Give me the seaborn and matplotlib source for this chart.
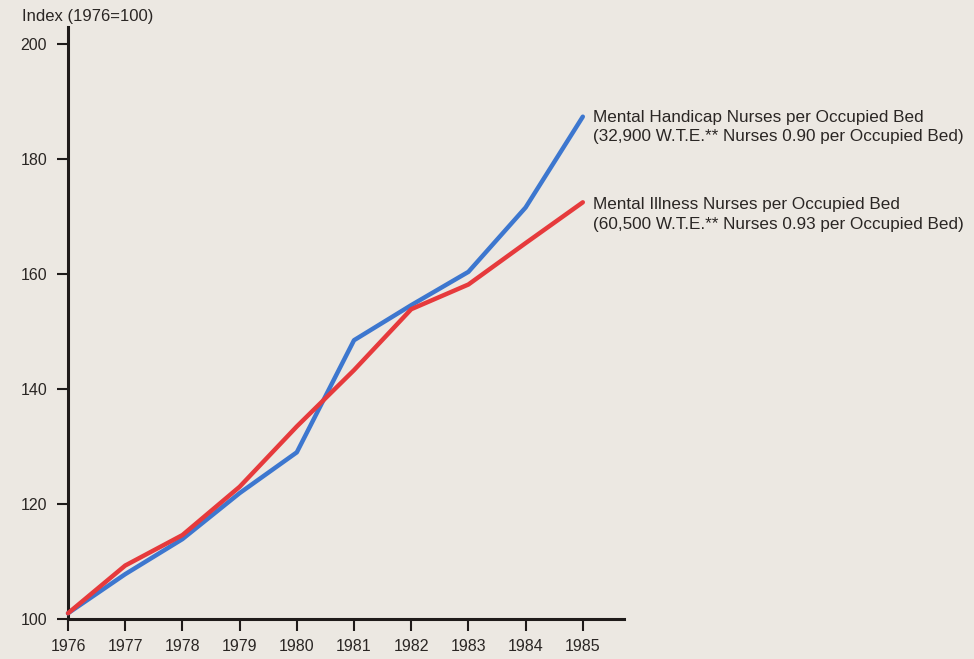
import matplotlib
matplotlib.use("Agg")
import matplotlib.pyplot as plt
import seaborn as sns
import pandas as pd

years = [1976, 1977, 1978, 1979, 1980, 1981, 1982, 1983, 1984, 1985]
handicap = [101.0, 107.8, 113.9, 121.9, 129.0, 148.5, 154.6, 160.4, 171.6, 187.4]
illness = [101.0, 109.3, 114.6, 123.0, 133.5, 143.3, 153.9, 158.2, 165.4, 172.5]
series_names = ["Mental Handicap Nurses per Occupied Bed",
                "Mental Illness Nurses per Occupied Bed"]
series_notes = ["(32,900 W.T.E.** Nurses 0.90 per Occupied Bed)",
                "(60,500 W.T.E.** Nurses 0.93 per Occupied Bed)"]
y_ticks = [100, 120, 140, 160, 180, 200]
y_label = "Index (1976=100)"

bg = "#ece8e2"
colors = ["#3d77cf", "#e63a3c"]
text_c = "#2a2624"

sns.set_theme(style="white")
plt.rcParams["font.family"] = ["Liberation Sans", "DejaVu Sans"]

df = pd.DataFrame({
    "year": years * 2,
    "value": handicap + illness,
    "series": [series_names[0]] * len(years) + [series_names[1]] * len(years),
})

fig = plt.figure(figsize=(9.74, 6.59), dpi=100, facecolor=bg)
ax = fig.add_axes([68 / 974, 1 - 619 / 659, (624 - 68) / 974, (619 - 27) / 659])
ax.set_facecolor(bg)

sns.lineplot(data=df, x="year", y="value", hue="series", hue_order=series_names,
             palette=colors, linewidth=3.2, ax=ax, legend=False,
             solid_capstyle="round", solid_joinstyle="round", clip_on=False)

ax.set_xlim(1976, 1985.72)
ax.set_ylim(100, 203)
ax.set_xticks(years)
ax.set_xticklabels([str(y) for y in years])
ax.set_yticks(y_ticks)
ax.set_xlabel("")
ax.set_ylabel("")

for side in ["top", "right"]:
    ax.spines[side].set_visible(False)
for side in ["left", "bottom"]:
    ax.spines[side].set_color("#1f1b1a")
    ax.spines[side].set_linewidth(2.2)
    ax.spines[side].set_zorder(1)

ax.tick_params(axis="y", which="major", direction="out", length=8, width=1.5,
               color="#1f1b1a", labelsize=11.5, labelcolor=text_c, pad=7, left=True)
ax.tick_params(axis="x", which="major", direction="out", length=8.6, width=1.5,
               color="#1f1b1a", labelsize=11.5, labelcolor=text_c, pad=6, bottom=True)

fig.text(22 / 974, 1 - 17 / 659, y_label, fontsize=12, color=text_c,
         ha="left", va="center")

label_y = [185.6, 170.4]
for name, note, ly in zip(series_names, series_notes, label_y):
    ax.text(1985.17, ly, name + "\n" + note, fontsize=12.3, color=text_c,
            ha="left", va="center", linespacing=1.4, clip_on=False)

fig.savefig("out.png", dpi=100, facecolor=bg)
